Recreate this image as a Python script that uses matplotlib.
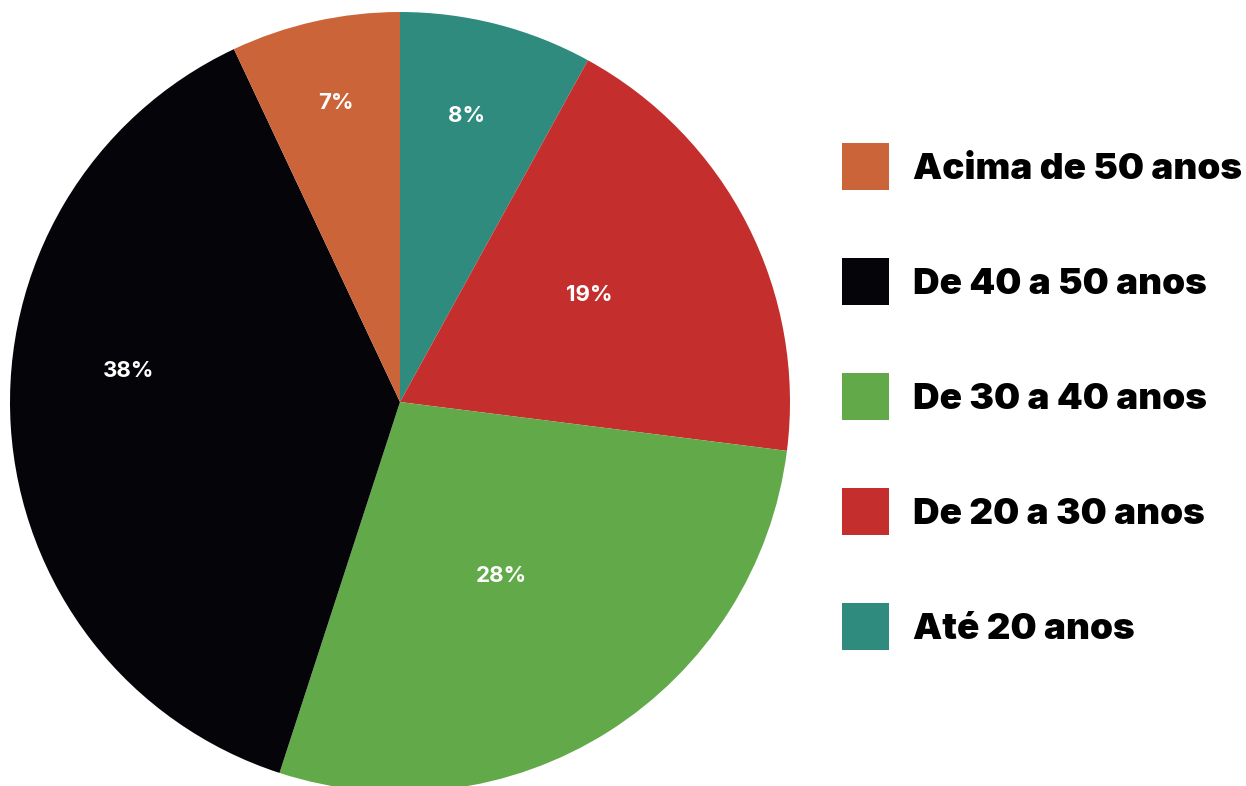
import matplotlib
matplotlib.use("Agg")
import matplotlib.pyplot as plt
import numpy as np

categories = ["Até 20 anos", "De 20 a 30 anos", "De 30 a 40 anos", "De 40 a 50 anos", "Acima de 50 anos"]
values = [8, 19, 28, 38, 7]
colors = ["#2E8B7E", "#C42F2E", "#62AA49", "#050509", "#CC643A"]
label_dist = [0.753, 0.559, 0.517, 0.700, 0.783]
label_ang_off = [1.4, 2.5, -2.1, -10.1, -0.5]

W, H = 1246, 786
fig = plt.figure(figsize=(W / 100, H / 100), dpi=100)
ax = fig.add_axes([0, 0, 1, 1])
cx, cy, R = 400, 786 - 402, 390
wedges, _ = ax.pie(values, colors=colors, startangle=90, counterclock=False,
                   center=(cx, cy), radius=R, wedgeprops=dict(linewidth=0))
ax.set_xlim(0, W)
ax.set_ylim(0, H)
ax.set_aspect("equal")
ax.axis("off")

for w, v, d, off in zip(wedges, values, label_dist, label_ang_off):
    ang = np.deg2rad((w.theta1 + w.theta2) / 2 + off)
    ax.text(cx + d * R * np.cos(ang), cy + d * R * np.sin(ang), f"{v}%",
            ha="center", va="center", color="white", fontsize=16,
            fontweight="bold", family=["Inter", "DejaVu Sans"])

handles = list(reversed(wedges))
labels = list(reversed(categories))
leg = ax.legend(handles, labels, loc="upper left",
                bbox_to_anchor=(842 / W, 1 - 143 / H), bbox_transform=fig.transFigure,
                frameon=False, handlelength=1.274, handleheight=1.588,
                handletextpad=0.653, labelspacing=1.85, borderpad=0, borderaxespad=0,
                prop=dict(family=["Inter", "DejaVu Sans"], weight="black", size=26.5))
fig.savefig("out.png", dpi=100)
